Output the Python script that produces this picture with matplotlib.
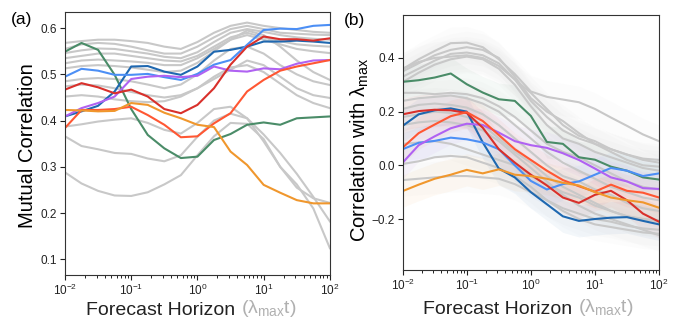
import numpy as np
import matplotlib.pyplot as plt

plt.rcParams['font.family'] = ['Liberation Sans', 'DejaVu Sans']
plt.rcParams['mathtext.fontset'] = 'custom'
plt.rcParams['mathtext.rm'] = 'Liberation Sans'
plt.rcParams['mathtext.it'] = 'Liberation Sans:italic'

# forecast horizon, as powers of ten
log_horizon = [-2.0, -1.75, -1.5, -1.25, -1.0, -0.75, -0.5, -0.25, 0.0,
               0.25, 0.5, 0.75, 1.0, 1.25, 1.5, 1.75, 2.0]
horizon = 10.0 ** np.array(log_horizon)

# (a) mutual correlation, highlighted models
mutual_green = [0.549, 0.568, 0.553, 0.499, 0.425, 0.369, 0.340, 0.319, 0.322, 0.358, 0.371, 0.391, 0.396, 0.391, 0.405, 0.407, 0.409]
mutual_darkblue = [0.409, 0.420, 0.432, 0.463, 0.517, 0.518, 0.506, 0.499, 0.517, 0.549, 0.553, 0.560, 0.571, 0.571, 0.573, 0.571, 0.568]
mutual_lightblue = [0.495, 0.512, 0.508, 0.499, 0.499, 0.501, 0.494, 0.488, 0.501, 0.521, 0.531, 0.564, 0.596, 0.599, 0.598, 0.605, 0.607]
mutual_purple = [0.409, 0.427, 0.438, 0.452, 0.490, 0.495, 0.497, 0.494, 0.497, 0.517, 0.508, 0.506, 0.513, 0.511, 0.523, 0.530, 0.531]
mutual_red = [0.467, 0.481, 0.472, 0.459, 0.467, 0.452, 0.425, 0.416, 0.434, 0.470, 0.521, 0.560, 0.582, 0.576, 0.576, 0.573, 0.578]
mutual_tomato = [0.384, 0.423, 0.423, 0.425, 0.430, 0.412, 0.391, 0.364, 0.366, 0.394, 0.416, 0.463, 0.488, 0.508, 0.517, 0.524, 0.531]
mutual_orange = [0.423, 0.422, 0.420, 0.421, 0.438, 0.434, 0.417, 0.405, 0.391, 0.386, 0.333, 0.304, 0.261, 0.244, 0.228, 0.221, 0.221]

# (a) mutual correlation, remaining models
mutual_gray = [
    [0.568, 0.572, 0.575, 0.575, 0.572, 0.568, 0.560, 0.555, 0.570, 0.590, 0.605, 0.612, 0.605, 0.600, 0.596, 0.592, 0.590],
    [0.555, 0.565, 0.568, 0.566, 0.560, 0.552, 0.545, 0.545, 0.560, 0.580, 0.598, 0.605, 0.598, 0.590, 0.588, 0.586, 0.585],
    [0.546, 0.552, 0.556, 0.555, 0.550, 0.545, 0.538, 0.535, 0.548, 0.570, 0.590, 0.598, 0.592, 0.585, 0.580, 0.577, 0.575],
    [0.535, 0.540, 0.545, 0.545, 0.540, 0.535, 0.530, 0.528, 0.540, 0.560, 0.580, 0.590, 0.580, 0.572, 0.565, 0.562, 0.560],
    [0.524, 0.530, 0.532, 0.530, 0.528, 0.525, 0.520, 0.520, 0.535, 0.555, 0.575, 0.585, 0.575, 0.565, 0.555, 0.550, 0.546],
    [0.513, 0.518, 0.520, 0.518, 0.515, 0.510, 0.505, 0.508, 0.525, 0.550, 0.575, 0.595, 0.585, 0.560, 0.530, 0.505, 0.488],
    [0.485, 0.490, 0.492, 0.490, 0.485, 0.478, 0.470, 0.478, 0.500, 0.530, 0.555, 0.560, 0.545, 0.520, 0.500, 0.485, 0.477],
    [0.474, 0.478, 0.476, 0.470, 0.462, 0.455, 0.450, 0.455, 0.470, 0.490, 0.510, 0.530, 0.520, 0.495, 0.470, 0.455, 0.449],
    [0.452, 0.455, 0.452, 0.446, 0.442, 0.440, 0.442, 0.452, 0.470, 0.495, 0.515, 0.520, 0.505, 0.480, 0.455, 0.438, 0.427],
    [0.387, 0.392, 0.398, 0.402, 0.405, 0.395, 0.380, 0.372, 0.395, 0.425, 0.430, 0.405, 0.355, 0.300, 0.255, 0.232, 0.222],
    [0.366, 0.345, 0.338, 0.330, 0.328, 0.318, 0.312, 0.325, 0.365, 0.400, 0.415, 0.405, 0.370, 0.330, 0.285, 0.235, 0.182],
    [0.288, 0.264, 0.248, 0.238, 0.237, 0.245, 0.262, 0.282, 0.325, 0.366, 0.395, 0.393, 0.360, 0.300, 0.262, 0.210, 0.124],
]

# (b) correlation with lambda_max, highlighted models
lyap_green = [0.311, 0.317, 0.327, 0.342, 0.302, 0.271, 0.246, 0.240, 0.184, 0.087, 0.080, 0.030, 0.021, -0.005, -0.020, -0.045, -0.053]
lyap_darkblue = [0.147, 0.190, 0.205, 0.212, 0.200, 0.085, -0.012, -0.045, -0.100, -0.145, -0.190, -0.207, -0.200, -0.195, -0.193, -0.207, -0.220]
lyap_lightblue = [0.060, 0.084, 0.091, 0.103, 0.097, 0.085, 0.060, 0.000, -0.058, -0.090, -0.070, -0.060, -0.035, -0.010, -0.020, -0.040, -0.030]
lyap_purple = [0.010, 0.075, 0.108, 0.138, 0.155, 0.150, 0.122, 0.090, 0.075, 0.065, 0.045, 0.020, -0.012, -0.045, -0.060, -0.085, -0.088]
lyap_red = [0.190, 0.202, 0.207, 0.205, 0.195, 0.140, 0.060, 0.010, -0.035, -0.075, -0.120, -0.140, -0.110, -0.095, -0.130, -0.180, -0.210]
lyap_tomato = [0.066, 0.120, 0.152, 0.183, 0.198, 0.165, 0.113, 0.060, 0.020, -0.020, -0.055, -0.078, -0.098, -0.072, -0.095, -0.102, -0.120]
lyap_orange = [-0.096, -0.072, -0.050, -0.035, -0.017, -0.030, -0.015, -0.035, -0.040, -0.050, -0.065, -0.075, -0.100, -0.120, -0.130, -0.138, -0.158]

# (b) correlation with lambda_max, remaining models
lyap_gray = [
    [0.358, 0.395, 0.426, 0.455, 0.457, 0.440, 0.395, 0.340, 0.275, 0.255, 0.245, 0.235, 0.210, 0.178, 0.147, 0.115, 0.090],
    [0.350, 0.380, 0.410, 0.430, 0.440, 0.430, 0.400, 0.330, 0.250, 0.200, 0.165, 0.120, 0.080, 0.060, 0.040, 0.025, 0.020],
    [0.330, 0.360, 0.390, 0.415, 0.420, 0.410, 0.380, 0.320, 0.240, 0.180, 0.130, 0.100, 0.080, 0.050, 0.020, 0.000, -0.005],
    [0.310, 0.345, 0.375, 0.395, 0.405, 0.395, 0.360, 0.300, 0.220, 0.150, 0.100, 0.080, 0.050, 0.030, 0.010, -0.010, -0.020],
    [0.360, 0.385, 0.400, 0.405, 0.410, 0.400, 0.370, 0.320, 0.270, 0.210, 0.150, 0.110, 0.090, 0.060, 0.040, 0.020, 0.010],
    [0.270, 0.270, 0.265, 0.270, 0.265, 0.250, 0.220, 0.180, 0.130, 0.080, 0.050, 0.030, 0.000, -0.030, -0.060, -0.080, -0.090],
    [0.240, 0.250, 0.255, 0.260, 0.250, 0.230, 0.200, 0.150, 0.100, 0.050, 0.010, -0.020, -0.050, -0.080, -0.100, -0.120, -0.130],
    [0.210, 0.225, 0.230, 0.225, 0.215, 0.190, 0.150, 0.100, 0.050, 0.000, -0.040, -0.060, -0.090, -0.110, -0.140, -0.160, -0.170],
    [0.180, 0.190, 0.200, 0.195, 0.180, 0.150, 0.100, 0.050, 0.010, -0.040, -0.080, -0.110, -0.140, -0.170, -0.190, -0.200, -0.210],
    [0.150, 0.160, 0.165, 0.160, 0.150, 0.130, 0.090, 0.040, -0.010, -0.060, -0.110, -0.150, -0.180, -0.200, -0.220, -0.240, -0.260],
    [0.080, 0.085, 0.090, 0.080, 0.060, 0.040, 0.020, 0.000, -0.040, -0.070, -0.100, -0.120, -0.150, -0.170, -0.190, -0.200, -0.205],
    [0.005, 0.015, 0.030, 0.035, 0.030, 0.010, -0.010, -0.040, -0.080, -0.130, -0.170, -0.200, -0.220, -0.230, -0.240, -0.250, -0.255],
    [-0.055, -0.050, -0.045, -0.040, -0.040, -0.045, -0.050, -0.070, -0.100, -0.130, -0.160, -0.180, -0.200, -0.210, -0.225, -0.235, -0.240],
]

# half width of the shaded spread around each curve in (b)
spread = 0.06

gray = '#c8c8c8'
highlight_colors = ['#4a8c68', '#1f68b0', '#4c8ff5', '#b062f2', '#d9302b', '#ff5733', '#f0972d']
mutual_highlight = [mutual_green, mutual_darkblue, mutual_lightblue, mutual_purple,
                    mutual_red, mutual_tomato, mutual_orange]
lyap_highlight = [lyap_green, lyap_darkblue, lyap_lightblue, lyap_purple,
                  lyap_red, lyap_tomato, lyap_orange]

fig = plt.figure(figsize=(6.81, 3.2), dpi=100)
ax1 = fig.add_axes([0.0954, 0.1406, 0.389, 0.822])
ax2 = fig.add_axes([0.5913, 0.1562, 0.3764, 0.797])

### panel (a)

for y in mutual_gray:
    ax1.plot(horizon, y, color=gray, lw=1.5, zorder=1)
for y, c in zip(mutual_highlight, highlight_colors):
    ax1.plot(horizon, y, color=c, lw=1.5, zorder=2)

ax1.set_ylim(0.066, 0.635)
ax1.set_yticks([0.1, 0.2, 0.3, 0.4, 0.5, 0.6])
ax1.set_ylabel('Mutual Correlation', fontsize=14.5)
ax1.yaxis.set_label_coords(-0.105, 0.49)

### panel (b)

for y in lyap_gray:
    y = np.array(y)
    ax2.fill_between(horizon, y - spread, y + spread, color='#c0c0c0', alpha=0.04, lw=0, zorder=0)
for y, c in zip(lyap_highlight, highlight_colors):
    y = np.array(y)
    ax2.fill_between(horizon, y - spread, y + spread, color=c, alpha=0.05, lw=0, zorder=0)
for y in lyap_gray:
    ax2.plot(horizon, y, color=gray, lw=1.5, zorder=1)
for y, c in zip(lyap_highlight, highlight_colors):
    ax2.plot(horizon, y, color=c, lw=1.5, zorder=2)

ax2.set_ylim(-0.39, 0.56)
ax2.set_yticks([-0.2, 0.0, 0.2, 0.4])
ax2.set_ylabel(r'Correlation with λ$_{\mathrm{max}}$', fontsize=14.5)
ax2.yaxis.set_label_coords(-0.122, 0.47)

### shared styling

for ax, tag, lab_y, tag_xy in [(ax1, '(a)', -0.134, (-0.162, 0.97)),
                               (ax2, '(b)', -0.156, (-0.186, 0.98))]:
    ax.set_xscale('log')
    ax.set_xlim(1e-2, 1e2)
    ax.set_xticks([1e-2, 1e-1, 1e0, 1e1, 1e2])
    ax.tick_params(labelsize=8.5, direction='out', length=3.5, width=0.8, colors='#222222', pad=2)
    ax.tick_params(which='minor', direction='out', length=2, width=0.6)
    for s in ax.spines.values():
        s.set_linewidth(0.8)
        s.set_color('#333333')
    # two-colour x label
    t = ax.text(0.08, lab_y, 'Forecast Horizon ', transform=ax.transAxes,
                fontsize=14, ha='left', va='center', color='#222222')
    ax.annotate(r'(λ$_{\mathrm{max}}$t)', xy=(1, 0), xycoords=t, ha='left', va='bottom',
                fontsize=14, color='#b0b0b0')
    ax.text(tag_xy[0], tag_xy[1], tag, transform=ax.transAxes, fontsize=12.5,
            ha='center', va='center')

plt.savefig('out.png', dpi=100)
